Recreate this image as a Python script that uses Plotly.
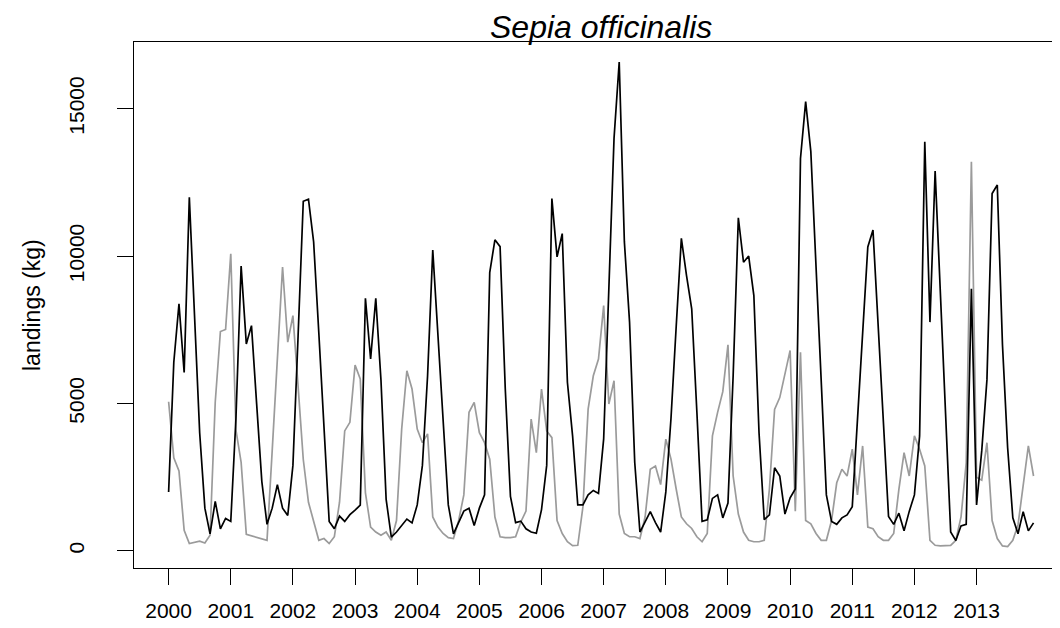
import plotly.graph_objects as go

# Monthly landings (kg), Jan 2000 - Dec 2013
years = list(range(2000, 2014))
tick_labels = [str(y) for y in years]

black_series = [
    2000, 6400, 8380, 6050, 11990, 8000, 4000, 1450, 580, 1680, 750, 1100,      # 2000
    1000, 4500, 9660, 7020, 7640, 4980, 2350, 900, 1450, 2250, 1450, 1200,      # 2001
    2900, 7300, 11860, 11930, 10480, 7400, 4250, 1000, 750, 1180, 1000, 1230,   # 2002
    1380, 1550, 8570, 6510, 8570, 5800, 1750, 470, 640, 850, 1080, 950,         # 2003
    1560, 2900, 5940, 10200, 7300, 4580, 1560, 580, 960, 1350, 1450, 860,       # 2004
    1450, 1900, 9440, 10550, 10320, 5500, 1850, 960, 1010, 750, 640, 600,       # 2005
    1400, 2900, 11950, 9970, 10760, 5720, 3900, 1560, 1560, 1900, 2050, 1950,   # 2006
    3800, 8890, 13990, 16580, 10480, 7760, 3000, 640, 960, 1330, 960, 640,      # 2007
    2000, 4500, 7600, 10600, 9340, 8210, 4700, 1000, 1050, 1780, 1900, 1120,    # 2008
    1620, 5940, 11300, 9790, 10000, 8660, 4000, 1060, 1220, 2820, 2540, 1250,   # 2009
    1800, 2100, 13310, 15240, 13540, 9500, 5600, 1900, 1000, 900, 1120, 1220,   # 2010
    1500, 4350, 7300, 10310, 10880, 7500, 4300, 1170, 900, 1280, 680, 1340,     # 2011
    1900, 3900, 13880, 7760, 12880, 8700, 4700, 640, 350, 850, 900, 8890,       # 2012
    1560, 3400, 5800, 12120, 12410, 7000, 3500, 1120, 580, 1330, 680, 950,      # 2013
]

grey_series = [
    5060, 3160, 2710, 700, 250, 280, 330, 270, 530, 5040, 7440, 7510,           # 2000
    10080, 4100, 3000, 560, 510, 440, 390, 360, 3400, 6500, 9630, 7080,         # 2001
    7980, 5580, 3100, 1650, 1030, 360, 420, 250, 480, 1650, 4070, 4360,         # 2002
    6300, 5830, 1970, 810, 640, 530, 640, 360, 1030, 4130, 6110, 5490,          # 2003
    4130, 3670, 3970, 1150, 810, 590, 450, 420, 1030, 1900, 4700, 5040,         # 2004
    4010, 3670, 3110, 1150, 480, 450, 450, 480, 980, 1350, 4470, 3330,          # 2005
    5490, 4070, 3840, 1030, 590, 310, 180, 190, 1500, 4810, 5940, 6510,         # 2006
    8320, 4980, 5770, 1250, 590, 480, 480, 420, 1150, 2770, 2880, 2250,         # 2007
    3790, 3110, 2100, 1150, 920, 760, 480, 310, 590, 3900, 4700, 5400,          # 2008
    6990, 2540, 1250, 640, 360, 310, 310, 360, 2100, 4800, 5200, 6050,          # 2009
    6800, 1350, 6740, 1030, 920, 590, 360, 360, 1030, 2310, 2770, 2540,         # 2010
    3450, 1900, 3560, 810, 750, 480, 360, 360, 590, 2090, 3330, 2540,           # 2011
    3900, 3450, 2880, 360, 190, 170, 170, 190, 360, 1150, 2990, 13200,          # 2012
    2500, 2400, 3670, 1030, 420, 170, 150, 360, 880, 2300, 3560, 2540,          # 2013
]

y_tick_vals = [0, 5000, 10000, 15000]
y_tick_text = ["0", "5000", "10000", "15000"]

time = [2000 + i / 12 for i in range(len(black_series))]

FONT = "Liberation Sans, Arial, Helvetica, sans-serif"

# page body adds an 8px offset; layout is shifted to compensate
L, T, B = 126, 34, 68
plot_w = 1060 - L

fig = go.Figure()
fig.add_trace(go.Scatter(x=time, y=grey_series, mode="lines",
                         line=dict(color="#9b9b9b", width=1.7), showlegend=False))
fig.add_trace(go.Scatter(x=time, y=black_series, mode="lines",
                         line=dict(color="#000000", width=1.7), showlegend=False))

fig.update_layout(
    width=1060, height=628, autosize=False,
    margin=dict(l=L, r=0, t=T, b=B, pad=0),
    paper_bgcolor="white", plot_bgcolor="white",
    font=dict(family=FONT, size=21, color="black"),
    xaxis=dict(
        range=[1999.443, 1999.443 + plot_w / 62.15], tickvals=years, ticktext=tick_labels,
        ticks="outside", ticklen=16, tickwidth=1.3, tickcolor="black",
        showline=True, linecolor="black", linewidth=1.3, mirror=True,
        showgrid=False, zeroline=False, ticklabelstandoff=8,
        tickfont=dict(size=21, family=FONT, color="black"),
    ),
    yaxis=dict(
        range=[-580, 17260], tickvals=y_tick_vals, ticktext=y_tick_text,
        tickangle=-90, ticks="outside", ticklen=16, tickwidth=1.3, tickcolor="black",
        showline=True, linecolor="black", linewidth=1.3, mirror=False,
        showgrid=False, zeroline=False, ticklabelstandoff=24,
        tickfont=dict(size=21, family=FONT, color="black"),
    ),
    annotations=[
        dict(text="<i>Sepia officinalis</i>", xref="paper", yref="paper",
             x=(601 - 8 - L) / plot_w, y=1.0, xanchor="center", yanchor="bottom", yshift=-5,
             showarrow=False, font=dict(size=32, family=FONT, color="black")),
        dict(text="landings (kg)", xref="paper", yref="paper",
             x=(32 - 8 - L) / plot_w, y=0.5, xanchor="center", yanchor="middle",
             textangle=-90, showarrow=False,
             font=dict(size=23, family=FONT, color="black")),
    ],
)

fig.write_html("out.html")
